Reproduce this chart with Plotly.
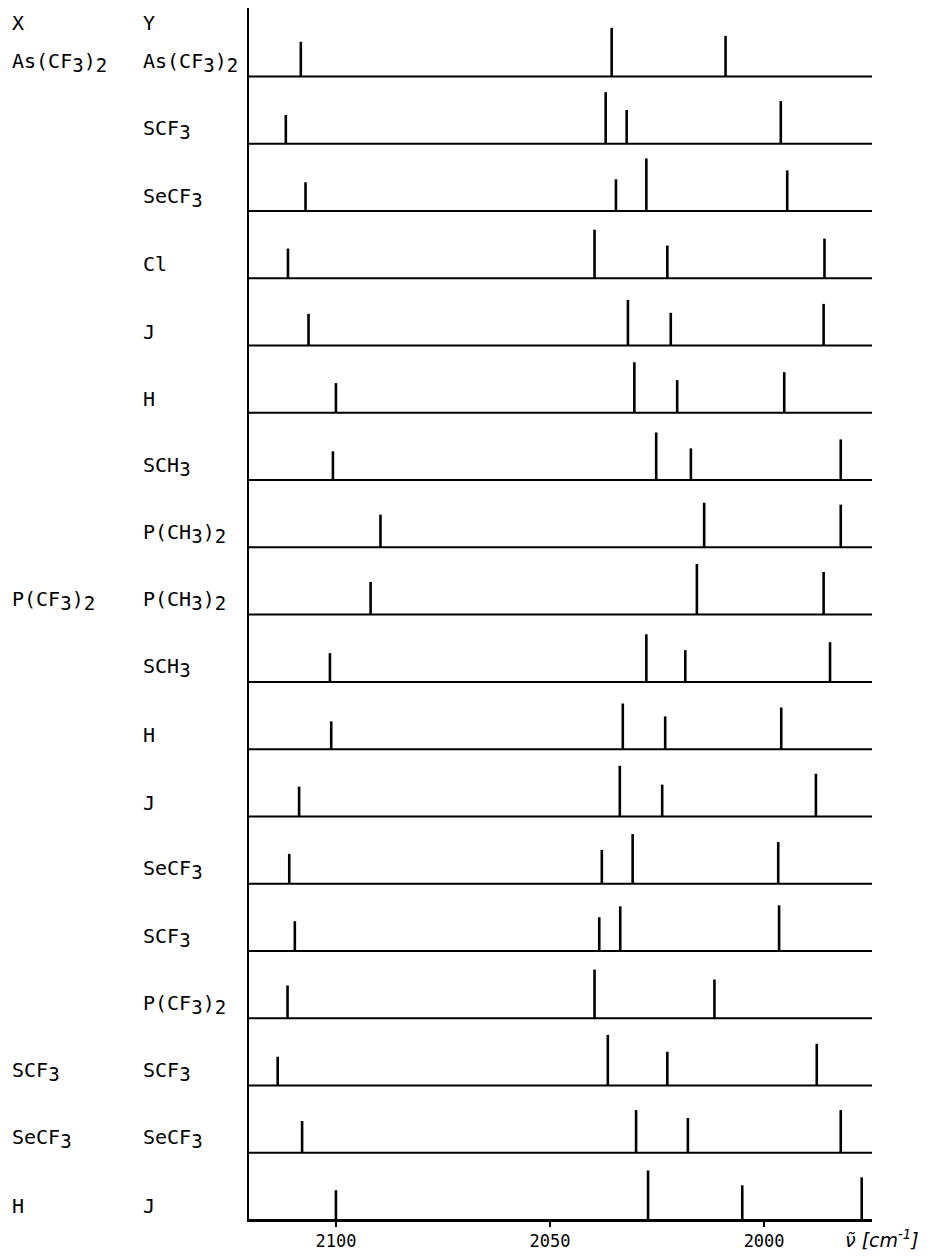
import re
import plotly.graph_objects as go

# ---------------- data ----------------
X_SUBST = ["As(CF3)2", "", "", "", "", "", "", "", "P(CF3)2", "", "", "", "", "", "",
           "SCF3", "SeCF3", "H"]
Y_SUBST = ["As(CF3)2", "SCF3", "SeCF3", "Cl", "J", "H", "SCH3", "P(CH3)2", "P(CH3)2",
           "SCH3", "H", "J", "SeCF3", "SCF3", "P(CF3)2", "SCF3", "SeCF3", "J"]

WAVENUMBERS = [
    [2108.2, 2035.6, 2009.0],
    [2111.7, 2037.0, 2032.1, 1996.1],
    [2107.1, 2034.6, 2027.5, 1994.6],
    [2111.2, 2039.6, 2022.6, 1985.9],
    [2106.4, 2031.8, 2021.8, 1986.1],
    [2100.0, 2030.3, 2020.3, 1995.3],
    [2100.7, 2025.2, 2017.1, 1982.1],
    [2089.6, 2014.0, 1982.1],
    [2091.9, 2015.7, 1986.1],
    [2101.4, 2027.5, 2018.4, 1984.6],
    [2101.1, 2033.0, 2023.1, 1996.0],
    [2108.6, 2033.7, 2023.8, 1987.9],
    [2110.9, 2037.9, 2030.7, 1996.7],
    [2109.6, 2038.5, 2033.6, 1996.5],
    [2111.3, 2039.6, 2011.6],
    [2113.6, 2036.5, 2022.6, 1987.7],
    [2107.9, 2029.9, 2017.8, 1982.1],
    [2100.0, 2027.1, 2005.1, 1977.2],
]
INTENSITIES = [
    [35, 49, 41],
    [29, 52, 34, 43],
    [29, 32, 53, 41],
    [30, 49, 33, 40],
    [32, 46, 33, 42],
    [30, 51, 33, 41],
    [29, 48, 32, 41],
    [33, 45, 43],
    [33, 51, 43],
    [29, 48, 32, 40],
    [28, 46, 33, 42],
    [30, 51, 32, 43],
    [30, 34, 50, 42],
    [30, 34, 45, 46],
    [33, 49, 39],
    [29, 51, 34, 42],
    [32, 43, 35, 43],
    [30, 50, 35, 43],
]
TICKS = [2100, 2050, 2000]
X_RANGE = [2120.3, 1974.8]

# ---------------- layout constants ----------------
W, H = 928, 1259
ML, MR, MT, MB = 249, 56, 8, 29
PLOT_W = W - ML - MR
PLOT_H = H - MT - MB
ROW_GAP = 67.82
N = len(Y_SUBST)
FONT = "DejaVu Sans Mono"


def fmt(s):
    return re.sub(r'(?<=[A-Za-z\)])(\d)',
                  r'<sub><span style="font-size:19px">\1</span></sub>', s)


def baseline(i):
    return (N - 1 - i) * ROW_GAP


fig = go.Figure()

for i in range(N):
    b = baseline(i)
    # baseline of the row
    fig.add_trace(go.Scatter(x=X_RANGE, y=[b, b], mode="lines",
                             line=dict(color="black", width=2),
                             hoverinfo="skip", showlegend=False))
    xs, ys = [], []
    for v, h in zip(WAVENUMBERS[i], INTENSITIES[i]):
        xs += [v, v, None]
        ys += [b, b + h, None]
    fig.add_trace(go.Scatter(x=xs, y=ys, mode="lines",
                             line=dict(color="black", width=2.6),
                             hoverinfo="skip", showlegend=False))

annotations = []
x_col_x = (10 - ML) / PLOT_W
y_col_x = (141 - ML) / PLOT_W
LABEL_FONT = dict(family=FONT, size=20, color="black")
for i in range(N):
    b = baseline(i)
    if X_SUBST[i]:
        annotations.append(dict(xref="paper", yref="y", x=x_col_x, y=b + 14,
                                xanchor="left", yanchor="middle", showarrow=False,
                                text=fmt(X_SUBST[i]), font=LABEL_FONT))
    annotations.append(dict(xref="paper", yref="y", x=y_col_x, y=b + 14,
                            xanchor="left", yanchor="middle", showarrow=False,
                            text=fmt(Y_SUBST[i]), font=LABEL_FONT))

top_y = baseline(0) + 54
annotations.append(dict(xref="paper", yref="y", x=x_col_x, y=top_y, xanchor="left",
                        yanchor="middle", showarrow=False, text="X", font=LABEL_FONT))
annotations.append(dict(xref="paper", yref="y", x=y_col_x, y=top_y, xanchor="left",
                        yanchor="middle", showarrow=False, text="Y", font=LABEL_FONT))
annotations.append(dict(xref="paper", yref="paper", x=(843 - ML) / PLOT_W, y=0,
                        xanchor="left", yanchor="top", yshift=-5, showarrow=False,
                        text="<i>ν\u0303 [cm<sup>-1</sup>]</i>",
                        font=dict(family="DejaVu Sans", size=19, color="black")))

fig.update_layout(
    width=W, height=H,
    margin=dict(l=ML, r=MR, t=MT, b=MB),
    paper_bgcolor="white", plot_bgcolor="white",
    showlegend=False,
    annotations=annotations,
    xaxis=dict(range=X_RANGE, tickvals=TICKS, ticktext=[str(t) for t in TICKS],
               showline=True, linecolor="black", linewidth=2,
               ticks="outside", ticklen=5, tickwidth=2, tickcolor="black",
               tickfont=dict(family=FONT, size=17, color="black"),
               showgrid=False, zeroline=False),
    yaxis=dict(range=[0, PLOT_H], showline=True, linecolor="black", linewidth=2,
               showticklabels=False, ticks="", showgrid=False, zeroline=False),
)

fig.write_html("out.html",
               config={"displayModeBar": False, "staticPlot": True},
               post_script="document.body.style.margin='0';"
                           "document.body.style.padding='0';")
